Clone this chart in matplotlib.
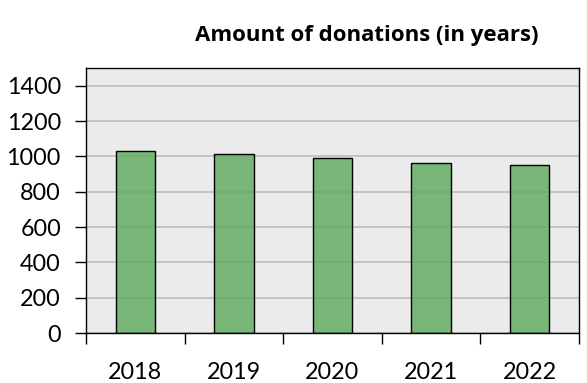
import numpy as np
import matplotlib.pyplot as plt

##### Data #####
years = ['2018', '2019', '2020', '2021', '2022']
donations = [1033, 1012, 993, 965, 950]

plt.rcParams['font.family'] = ['Lato', 'DejaVu Sans']

fig = plt.figure(figsize=(5.87, 3.83), dpi=100)
ax = fig.add_axes([86 / 587, 1 - 333 / 383, (579 - 86) / 587, (333 - 68) / 383])

x = np.arange(len(years))
ax.set_facecolor('#ebebeb')
ax.yaxis.grid(True, color='#bdbdbd', linewidth=1.2)
ax.set_axisbelow(True)
# semi-transparent fill so the grid shows through like the original
ax.bar(x, donations, width=0.4, facecolor=(0.36, 0.67, 0.36, 0.8),
       edgecolor='black', linewidth=1, zorder=2)

ax.set_xlim(-0.5, len(years) - 0.5)
ax.set_ylim(0, 1500)
ax.set_yticks(np.arange(0, 1401, 200))
ax.tick_params(axis='y', labelsize=16.8, length=8, width=1, direction='out', pad=10)

# x ticks sit on category boundaries, labels at centres
ax.set_xticks(np.arange(-0.5, len(years), 1))
ax.set_xticklabels([])
ax.set_xticks(x, minor=True)
ax.set_xticklabels(years, minor=True)
ax.tick_params(axis='x', which='major', length=8, width=1, direction='out')
ax.tick_params(axis='x', which='minor', length=0, labelsize=16.8, pad=21)

for s in ax.spines.values():
    s.set_color('black')
    s.set_linewidth(1)

fig.text(367 / 587, 1 - 35 / 383, 'Amount of donations (in years)',
         ha='center', va='center', fontsize=16, fontweight='bold',
         family=['Open Sans', 'DejaVu Sans'])

plt.savefig('out.png', dpi=100)
